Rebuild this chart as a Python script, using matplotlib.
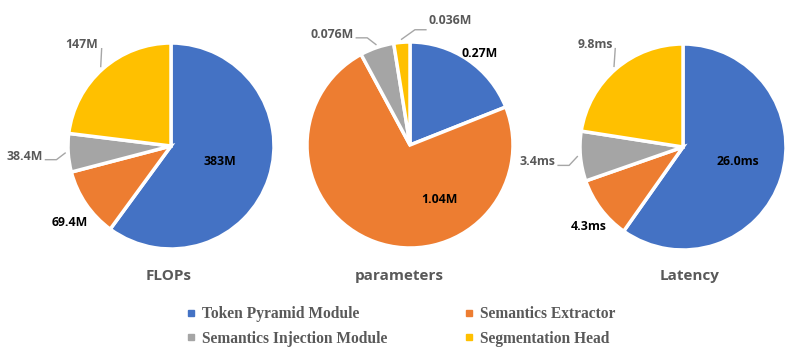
import numpy as np
import matplotlib.pyplot as plt
from matplotlib.lines import Line2D

# module names (legend) and colours
modules = ['Token Pyramid Module', 'Semantics Extractor',
           'Semantics Injection Module', 'Segmentation Head']
colors = ['#4472C4', '#ED7D31', '#A5A5A5', '#FFC000']

# values
flops = [383, 69.4, 38.4, 147]
flops_text = ['383M', '69.4M', '38.4M', '147M']
params = [0.27, 1.04, 0.076, 0.036]
params_text = ['0.27M', '1.04M', '0.076M', '0.036M']
latency = [26.0, 4.3, 3.4, 9.8]
latency_text = ['26.0ms', '4.3ms', '3.4ms', '9.8ms']
titles = ['FLOPs', 'parameters', 'Latency']

# layout (pixels, y up)
W, H = 789, 362
R = 103
centers = [(171, 216), (410, 217), (683, 215)]
title_x = [169, 399, 690]
title_y = 86

# label placement per slice: kind, params
# 'in'/'out': (radius factor, angle tweak, colour)
# 'h': leader with horizontal tail (angle tweak, text lift)
# 'v': short leader under text
label_specs = [
    [('in', 0.50, 0, 'k'), ('out', 1.23, 3, 'k'), ('h', 3, 3.5), ('v',)],
    [('out', 1.12, -3, 'k'), ('in', 0.60, 48, 'k'), ('h', 3, 3.5), ('h', -7, 9)],
    [('in', 0.55, 3, 'k'), ('out', 1.20, 3, 'k'), ('h', 4, 3.5), ('v',)],
]

sans = ['Open Sans', 'DejaVu Sans']
label_font = dict(family=sans, weight='bold', size=8.8)
gray_txt = '#595959'
line_col = '#A6A6A6'

fig = plt.figure(figsize=(W / 100, H / 100), dpi=100)
ax = fig.add_axes([0, 0, 1, 1])


def pol(c, r, ang):
    a = np.deg2rad(ang)
    return c[0] + r * np.cos(a), c[1] + r * np.sin(a)


for vals, texts, c, specs, title, tx in zip([flops, params, latency],
                                            [flops_text, params_text, latency_text],
                                            centers, label_specs, titles, title_x):
    wedges, _ = ax.pie(vals, colors=colors, startangle=90, counterclock=False,
                       center=c, radius=R,
                       wedgeprops=dict(edgecolor='white', linewidth=2.5))
    for w, t, sp in zip(wedges, texts, specs):
        mid = (w.theta1 + w.theta2) / 2
        if sp[0] in ('in', 'out'):
            x, y = pol(c, sp[1] * R, mid + sp[2])
            ax.text(x, y, t, ha='center', va='center', color=sp[3], **label_font)
        elif sp[0] == 'h':
            p0 = pol(c, 1.03 * R, mid)
            el = pol(c, 1.12 * R, mid + sp[1])
            s = -1 if el[0] < c[0] else 1
            end = (el[0] + s * 11, el[1])
            ax.plot([p0[0], el[0], end[0]], [p0[1], el[1], end[1]],
                    color=line_col, lw=1)
            ax.text(end[0] + s * 3, end[1] + sp[2], t,
                    ha='left' if s > 0 else 'right', va='center',
                    color=gray_txt, **label_font)
        else:
            p0 = pol(c, 1.03 * R, mid)
            end = pol(c, 1.16 * R, mid - 6)
            ax.plot([p0[0], end[0]], [p0[1], end[1]], color=line_col, lw=1)
            x, y = pol(c, 1.31 * R, mid)
            ax.text(x, y, t, ha='center', va='center', color=gray_txt, **label_font)
    ax.text(tx, title_y, title, ha='center', va='center', color=gray_txt,
            family=sans, weight='bold', size=11)

ax.set_xlim(0, W)
ax.set_ylim(0, H)
ax.set_aspect('equal')
ax.axis('off')

# legend: two rows, two columns
order = [0, 2, 1, 3]
handles = [Line2D([], [], marker='s', ls='none', ms=4, color=colors[i]) for i in order]
ax.legend(handles, [modules[i] for i in order], ncol=2, frameon=False,
          loc='upper left', bbox_to_anchor=(186 / W, (H - 306) / H),
          borderpad=0, borderaxespad=0, handlelength=0.6, handletextpad=0.4,
          columnspacing=5.0, labelspacing=0.55, labelcolor=gray_txt,
          prop=dict(family='Liberation Serif', weight='bold', size=11.2))

fig.savefig('out.png', dpi=100)
